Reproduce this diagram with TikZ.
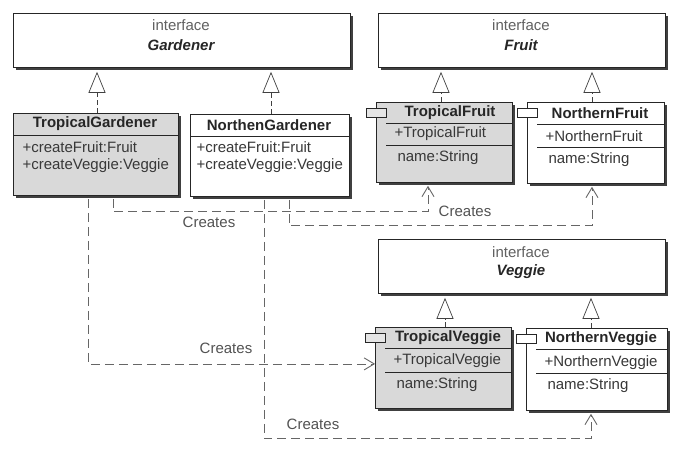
\documentclass[tikz,border=0pt]{standalone}
\usepackage{fontspec}
\setmainfont{Liberation Sans}
\usetikzlibrary{arrows.meta,shadows}

\tikzset{
  every node/.style={font=\fontsize{15}{18}\selectfont, text=black!78},
  classbox/.style={draw=black!85, line width=0.8pt, inner sep=0pt, anchor=north west,
    drop shadow={shadow xshift=3pt, shadow yshift=-3pt, fill=black!75, opacity=1}},
  ifbox/.style={classbox, fill=white},
  tropical/.style={classbox, fill=gray!30},
  northern/.style={classbox, fill=white},
  tabbox/.style={draw=black!85, line width=0.8pt, minimum width=20pt, minimum height=9pt, inner sep=0pt},
  sepline/.style={draw=black!85, line width=0.8pt},
  hdr/.style={font=\fontsize{15}{18}\selectfont\bfseries, text=black!85},
  ifname/.style={font=\fontsize{15}{18}\selectfont\bfseries\itshape, text=black!85},
  stereo/.style={text=black!62},
  member/.style={anchor=west},
  lbl/.style={text=black!68},
  realizes/.style={draw=black!75, line width=0.7pt, dash pattern=on 5pt off 3pt,
    -{Triangle[open, length=21pt, width=17pt, fill=white]}},
  creates/.style={draw=black!60, line width=0.8pt, dash pattern=on 9pt off 5pt,
    -{Straight Barb[length=10pt, width=12pt, line width=0.9pt]}}
}

\begin{document}
\begin{tikzpicture}[x=1pt, y=-1pt]
    \useasboundingbox (0,0) rectangle (685,462);

    % Interfaces
    \node[ifbox, minimum width=337pt, minimum height=54pt] (gardener) at (13,13) {};
    \node[stereo] (gardener-st) at (181,25) {interface};
    \node[ifname] (gardener-nm) at (181,45) {Gardener};

    \node[ifbox, minimum width=287pt, minimum height=54pt] (fruit) at (378,13) {};
    \node[stereo] (fruit-st) at (521,25) {interface};
    \node[ifname] (fruit-nm) at (521,45) {Fruit};

    \node[ifbox, minimum width=287pt, minimum height=54pt] (veggie) at (378,239) {};
    \node[stereo] (veggie-st) at (521,252) {interface};
    \node[ifname] (veggie-nm) at (521,272) {Veggie};

    % Gardeners
    \node[tropical, minimum width=165pt, minimum height=82pt] (tgard) at (13,113) {};
    \node[hdr] (tgard-nm) at (95,124) {TropicalGardener};
    \draw[sepline] ([yshift=-22pt]tgard.north west) -- ([yshift=-22pt]tgard.north east);
    \node[member] (tgard-m1) at (19,147) {+createFruit:Fruit};
    \node[member] (tgard-m2) at (19,166) {+createVeggie:Veggie};

    \node[northern, minimum width=159pt, minimum height=82pt] (ngard) at (190,114) {};
    \node[hdr] (ngard-nm) at (269,125) {NorthenGardener};
    \draw[sepline] ([yshift=-22pt]ngard.north west) -- ([yshift=-22pt]ngard.north east);
    \node[member] (ngard-m1) at (193,147) {+createFruit:Fruit};
    \node[member] (ngard-m2) at (193,166) {+createVeggie:Veggie};

    % Fruits
    \node[tropical, minimum width=136pt, minimum height=80pt] (tfruit) at (376,102) {};
    \node[tabbox, fill=gray!20] (tfruit-tab) at (376,113) {};
    \node[hdr] (tfruit-nm) at (450,113) {TropicalFruit};
    \draw[sepline] ([xshift=10pt,yshift=-21pt]tfruit.north west) -- ([yshift=-21pt]tfruit.north east);
    \draw[sepline] ([xshift=10pt,yshift=-43pt]tfruit.north west) -- ([yshift=-43pt]tfruit.north east);
    \node[member] (tfruit-m1) at (391,134) {+TropicalFruit};
    \node[member] (tfruit-m2) at (394,158) {name:String};

    \node[northern, minimum width=137pt, minimum height=81pt] (nfruit) at (527,102) {};
    \node[tabbox, fill=white] (nfruit-tab) at (527,113) {};
    \node[hdr] (nfruit-nm) at (600,113) {NorthernFruit};
    \draw[sepline] ([xshift=10pt,yshift=-22pt]nfruit.north west) -- ([yshift=-22pt]nfruit.north east);
    \draw[sepline] ([xshift=10pt,yshift=-45pt]nfruit.north west) -- ([yshift=-45pt]nfruit.north east);
    \node[member] (nfruit-m1) at (542,136) {+NorthernFruit};
    \node[member] (nfruit-m2) at (545,160) {name:String};

    % Veggies
    \node[tropical, minimum width=136pt, minimum height=81pt] (tveg) at (375,327) {};
    \node[tabbox, fill=gray!20] (tveg-tab) at (375,338) {};
    \node[hdr] (tveg-nm) at (448,338) {TropicalVeggie};
    \draw[sepline] ([xshift=10pt,yshift=-21pt]tveg.north west) -- ([yshift=-21pt]tveg.north east);
    \draw[sepline] ([xshift=10pt,yshift=-45pt]tveg.north west) -- ([yshift=-45pt]tveg.north east);
    \node[member] (tveg-m1) at (390,361) {+TropicalVeggie};
    \node[member] (tveg-m2) at (393,385) {name:String};

    \node[northern, minimum width=141pt, minimum height=82pt] (nveg) at (526,328) {};
    \node[tabbox, fill=white] (nveg-tab) at (526,339) {};
    \node[hdr] (nveg-nm) at (601,339) {NorthernVeggie};
    \draw[sepline] ([xshift=10pt,yshift=-21pt]nveg.north west) -- ([yshift=-21pt]nveg.north east);
    \draw[sepline] ([xshift=10pt,yshift=-45pt]nveg.north west) -- ([yshift=-45pt]nveg.north east);
    \node[member] (nveg-m1) at (541,363) {+NorthernVeggie};
    \node[member] (nveg-m2) at (544,386) {name:String};

    % Realizations
    \draw[realizes] ([xshift=84pt]tgard.north west) -- ([xshift=84pt,yshift=-4pt]tgard.north west |- gardener.south);
    \draw[realizes] ([xshift=81pt]ngard.north west) -- ([xshift=81pt,yshift=-4pt]ngard.north west |- gardener.south);
    \draw[realizes] ([xshift=65pt]tfruit.north west) -- ([xshift=65pt,yshift=-4pt]tfruit.north west |- fruit.south);
    \draw[realizes] ([xshift=65pt]nfruit.north west) -- ([xshift=65pt,yshift=-4pt]nfruit.north west |- fruit.south);
    \draw[realizes] ([xshift=70pt]tveg.north west) -- ([xshift=70pt,yshift=-4pt]tveg.north west |- veggie.south);
    \draw[realizes] ([xshift=65pt]nveg.north west) -- ([xshift=65pt,yshift=-4pt]nveg.north west |- veggie.south);

    % Creates dependencies
    \draw[creates] ([xshift=100pt,yshift=-3pt]tgard.south west) -- ++(0,13) -| ([xshift=52pt,yshift=-3pt]tfruit.south west);
    \draw[creates] ([xshift=75pt,yshift=-3pt]tgard.south west) |- ([yshift=4pt]tveg.west);
    \draw[creates] ([xshift=99pt,yshift=-3pt]ngard.south west) -- ++(0,26) -| ([xshift=65pt,yshift=-3pt]nfruit.south west);
    \draw[creates] ([xshift=74pt,yshift=-3pt]ngard.south west) -- ++(0,239) -| ([xshift=65pt,yshift=-3pt]nveg.south west);

    % Labels
    \node[lbl] (cr1) at (465,211) {Creates};
    \node[lbl] (cr2) at (209,222) {Creates};
    \node[lbl] (cr3) at (226,348) {Creates};
    \node[lbl] (cr4) at (313,424) {Creates};
\end{tikzpicture}
\end{document}
